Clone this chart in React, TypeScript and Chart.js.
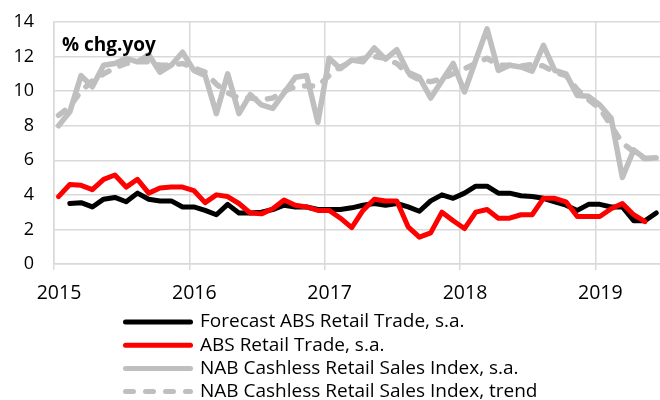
import React, { useEffect, useRef } from "react";
import { Chart, registerables } from "chart.js";

Chart.register(...registerables);

// Monthly observations, Jan 2015 – Jun 2019
const MONTHS: string[] = [
  "2015-01", "2015-02", "2015-03", "2015-04", "2015-05", "2015-06", "2015-07", "2015-08", "2015-09", "2015-10", "2015-11", "2015-12",
  "2016-01", "2016-02", "2016-03", "2016-04", "2016-05", "2016-06", "2016-07", "2016-08", "2016-09", "2016-10", "2016-11", "2016-12",
  "2017-01", "2017-02", "2017-03", "2017-04", "2017-05", "2017-06", "2017-07", "2017-08", "2017-09", "2017-10", "2017-11", "2017-12",
  "2018-01", "2018-02", "2018-03", "2018-04", "2018-05", "2018-06", "2018-07", "2018-08", "2018-09", "2018-10", "2018-11", "2018-12",
  "2019-01", "2019-02", "2019-03", "2019-04", "2019-05", "2019-06",
];

const FORECAST_ABS: (number | null)[] = [
  null, 3.5, 3.55, 3.3, 3.75, 3.85, 3.6, 4.1, 3.75, 3.65, 3.65, 3.3,
  3.3, 3.1, 2.85, 3.45, 2.95, 2.95, 3.0, 3.15, 3.4, 3.3, 3.3, 3.15,
  3.15, 3.15, 3.25, 3.4, 3.5, 3.4, 3.5, 3.3, 3.05, 3.65, 4.0, 3.8,
  4.1, 4.5, 4.5, 4.1, 4.1, 3.95, 3.9, 3.8, 3.6, 3.4, 3.1, 3.45,
  3.45, 3.3, 3.3, 2.5, 2.5, 2.95,
];

const ABS_RETAIL: (number | null)[] = [
  3.9, 4.6, 4.55, 4.3, 4.9, 5.15, 4.45, 4.9, 4.1, 4.4, 4.45, 4.45,
  4.25, 3.55, 4.0, 3.9, 3.5, 2.95, 2.9, 3.2, 3.7, 3.4, 3.3, 3.1,
  3.1, 2.65, 2.1, 3.1, 3.75, 3.65, 3.65, 2.15, 1.55, 1.8, 3.0, 2.5,
  2.05, 3.0, 3.15, 2.65, 2.65, 2.85, 2.85, 3.8, 3.8, 3.6, 2.75, 2.75,
  2.75, 3.2, 3.5, 2.85, 2.45, null,
];

const NAB_SA: number[] = [
  8.0, 8.8, 10.9, 10.25, 11.5, 11.6, 11.9, 11.7, 12.1, 11.1, 11.5, 12.25,
  11.2, 10.9, 8.7, 11.0, 8.7, 9.8, 9.2, 9.0, 9.9, 10.8, 10.9, 8.2,
  11.9, 11.3, 11.8, 11.7, 12.5, 11.85, 12.4, 11.1, 10.8, 9.6, 10.6, 11.6,
  9.95, 11.8, 13.6, 11.2, 11.5, 11.4, 11.15, 12.65, 11.2, 11.0, 9.75, 9.7,
  9.2, 8.45, 5.0, 6.6, 6.1, 6.15,
];

const NAB_TREND: number[] = [
  8.6, 9.1, 10.0, 10.6, 11.0, 11.35, 11.6, 11.7, 11.7, 11.5, 11.5, 11.6,
  11.35, 11.1, 10.4, 9.9, 9.6, 9.6, 9.5, 9.6, 10.0, 10.25, 10.3, 10.3,
  10.9, 11.4, 11.7, 11.9, 12.0, 11.9, 11.6, 11.0, 10.65, 10.55, 10.7, 11.0,
  11.3, 11.6, 11.9, 11.5, 11.5, 11.45, 11.55, 11.45, 11.1, 10.9, 10.1, 9.5,
  9.0, 8.0, 7.0, 6.5, 6.1, 6.1,
];

const X_TICKS: number[] = [2015, 2016, 2017, 2018, 2019];
const Y_TICKS: number[] = [0, 2, 4, 6, 8, 10, 12, 14];
const AXIS_TITLE = "% chg.yoy";

const SERIES_LABELS = [
  "Forecast ABS Retail Trade, s.a.",
  "ABS Retail Trade, s.a.",
  "NAB Cashless Retail Sales Index, s.a.",
  "NAB Cashless Retail Sales Index, trend",
];

const FONT = '"Open Sans", "Noto Sans", sans-serif';
const GRID = "#d9d9d9";
const GRAY = "#bfbfbf";

// position within the month at which Excel plotted each point
const IN_MONTH = 0.4;
const toX = (m: string) => {
  const [y, mo] = m.split("-").map(Number);
  return y + (mo - 1 + IN_MONTH) / 12;
};
const pts = (vals: (number | null)[]) => MONTHS.map((m, i) => ({ x: toX(m), y: vals[i] }));

const legendPlugin = {
  id: "stackedLegend",
  afterDraw(chart: any) {
    const ctx = chart.ctx as CanvasRenderingContext2D;
    const byLabel: Record<string, any> = {};
    chart.data.datasets.forEach((d: any) => (byLabel[d.label] = d));
    ctx.save();
    SERIES_LABELS.forEach((label, i) => {
      const d = byLabel[label];
      const y = 322 + i * 23.2;
      ctx.beginPath();
      ctx.setLineDash(d.borderDash || []);
      ctx.lineCap = "round";
      ctx.lineWidth = 5;
      ctx.strokeStyle = d.borderColor;
      ctx.moveTo(125.5, y);
      ctx.lineTo(190.5, y);
      ctx.stroke();
      ctx.setLineDash([]);
      ctx.fillStyle = "#000";
      ctx.font = `19px ${FONT}`;
      ctx.textBaseline = "middle";
      ctx.textAlign = "left";
      ctx.fillText(label, 200, y);
    });
    ctx.restore();
  },
};

const titlePlugin = {
  id: "innerTitle",
  afterDraw(chart: any) {
    const ctx = chart.ctx as CanvasRenderingContext2D;
    const { left, top } = chart.chartArea;
    ctx.save();
    ctx.fillStyle = "#000";
    ctx.font = `bold 19px ${FONT}`;
    ctx.textBaseline = "alphabetic";
    ctx.textAlign = "left";
    ctx.fillText(AXIS_TITLE, left + 8, top + 29);
    ctx.restore();
  },
};

export default function App() {
  const ref = useRef<HTMLCanvasElement>(null);

  useEffect(() => {
    if (!ref.current) return;
    const line = { pointRadius: 0, tension: 0, borderJoinStyle: "round" as const, borderCapStyle: "round" as const, spanGaps: false };
    const chart = new Chart(ref.current, {
      type: "line",
      data: {
        datasets: [
          { ...line, label: SERIES_LABELS[0], data: pts(FORECAST_ABS), borderColor: "#000000", borderWidth: 5, order: 1 },
          { ...line, label: SERIES_LABELS[1], data: pts(ABS_RETAIL), borderColor: "#ff0000", borderWidth: 5, order: 0 },
          { ...line, label: SERIES_LABELS[2], data: pts(NAB_SA), borderColor: GRAY, borderWidth: 5.5, order: 2 },
          { ...line, label: SERIES_LABELS[3], data: pts(NAB_TREND), borderColor: GRAY, borderWidth: 5.5, borderDash: [8, 12], order: 3 },
        ],
      },
      options: {
        animation: false,
        responsive: false,
        devicePixelRatio: 1,
        layout: { padding: { top: 22, right: 0, bottom: 100, left: 0 } },
        plugins: { legend: { display: false }, tooltip: { enabled: false } },
        scales: {
          x: {
            type: "linear",
            min: 2015,
            max: 2019.478,
            afterBuildTicks: (s: any) => { s.ticks = X_TICKS.map((v) => ({ value: v })); },
            afterFit: (s: any) => { s.height = 36; },
            ticks: {
              includeBounds: false,
              callback: (v: any) => String(v),
              color: "#000",
              font: { family: FONT, size: 19.5 },
              padding: 11.5,
              labelOffset: 5,
              maxRotation: 0,
            },
            grid: { color: GRID, lineWidth: 1.5, tickLength: 6, drawTicks: true },
            border: { color: GRID, width: 1.5 },
          },
          y: {
            min: 0,
            max: 14,
            afterBuildTicks: (s: any) => { s.ticks = Y_TICKS.map((v) => ({ value: v })); },
            afterFit: (s: any) => { s.width = 54; },
            ticks: {
              color: "#000",
              font: { family: FONT, size: 18 },
              padding: 4,
              callback: (v: any) => String(v),
            },
            grid: { color: GRID, lineWidth: 1.5, drawTicks: true, tickLength: 16, tickColor: "rgba(0,0,0,0)" },
            border: { color: GRID, width: 1.5 },
          },
        },
      },
      plugins: [legendPlugin, titlePlugin],
    });
    return () => chart.destroy();
  }, []);

  return (
    <div style={{ position: "fixed", left: 0, top: 0, width: 660, height: 400, background: "#fff" }}>
      <canvas ref={ref} width={660} height={400} />
    </div>
  );
}
